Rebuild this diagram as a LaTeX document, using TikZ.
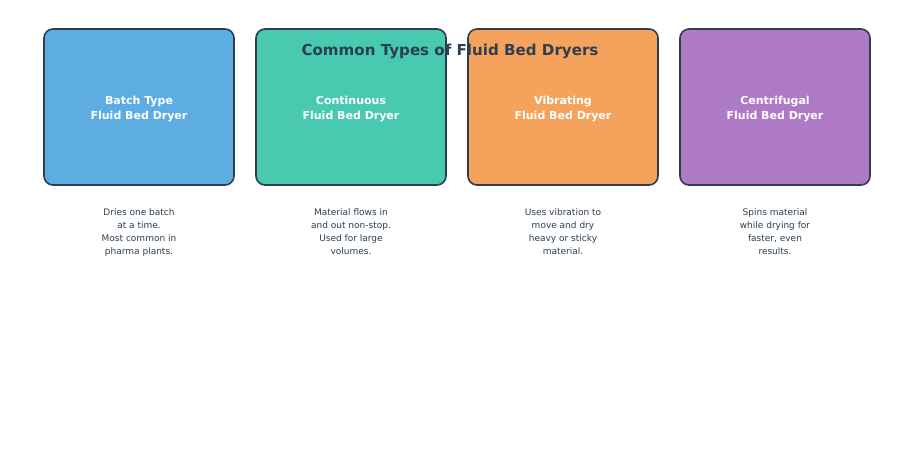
\documentclass[tikz,border=0pt]{standalone}
\usepackage{fontspec}
\setmainfont{DejaVu Sans}
\definecolor{ink}{HTML}{2C3E50}
\definecolor{cblue}{HTML}{5DADE2}
\definecolor{cteal}{HTML}{48C9B0}
\definecolor{corange}{HTML}{F5A35C}
\definecolor{cpurple}{HTML}{AF7AC5}
\tikzset{
  card/.style={draw=ink, line width=1.6pt, rounded corners=9pt, minimum width=190pt, minimum height=156pt, inner sep=0pt,
    text=white, font=\bfseries\fontsize{11}{15}\selectfont, align=center},
  desc/.style={text=ink, font=\fontsize{9}{13}\selectfont, align=center, anchor=north, inner sep=0pt},
  ttl/.style={text=ink, font=\bfseries\fontsize{15.1}{18}\selectfont, inner sep=0pt}
}
\begin{document}
\begin{tikzpicture}[x=1pt,y=-1pt]
\useasboundingbox (0,0) rectangle (900,450);
\node[card, fill=cblue] (b1) at (139,107) {};
\node[card, fill=cteal] (b2) at (351,107) {};
\node[card, fill=corange] (b3) at (563,107) {};
\node[card, fill=cpurple] (b4) at (775,107) {};
\node[card, draw=none, fill=none] (l1) at (139,109) {Batch Type\\Fluid Bed Dryer};
\node[card, draw=none, fill=none] (l2) at (351,109) {Continuous\\Fluid Bed Dryer};
\node[card, draw=none, fill=none] (l3) at (563,109) {Vibrating\\Fluid Bed Dryer};
\node[card, draw=none, fill=none] (l4) at (775,109) {Centrifugal\\Fluid Bed Dryer};
\node[ttl] (title) at (450,51) {Common Types of Fluid Bed Dryers};
\node[desc] (d1) at (139,208) {Dries one batch\\at a time.\\Most common in\\pharma plants.};
\node[desc] (d2) at (351,208) {Material flows in\\and out non-stop.\\Used for large\\volumes.};
\node[desc] (d3) at (563,208) {Uses vibration to\\move and dry\\heavy or sticky\\material.};
\node[desc] (d4) at (775,208) {Spins material\\while drying for\\faster, even\\results.};
\end{tikzpicture}
\end{document}
